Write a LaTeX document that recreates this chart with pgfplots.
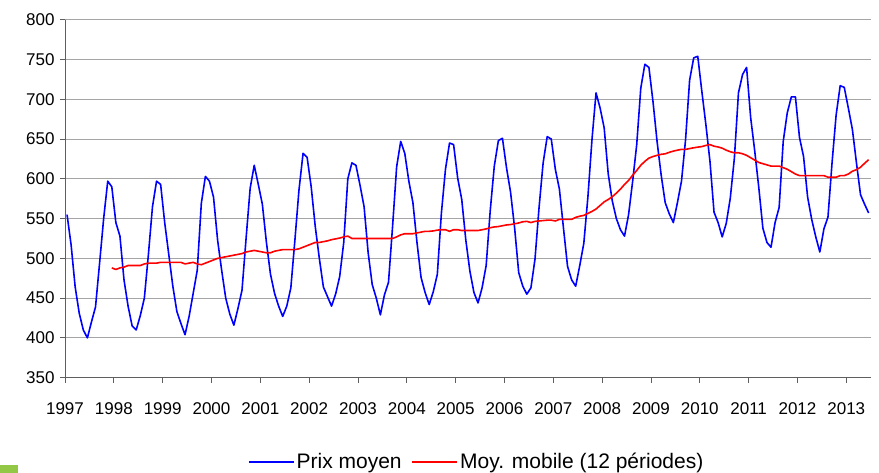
\documentclass[border=0pt]{standalone}
\usepackage{fontspec}
\setmainfont{Liberation Sans}
\usepackage{pgfplots}
\usepackage{pgfplotstable}
\pgfplotsset{compat=1.18}
\definecolor{gridgray}{RGB}{165,165,165}
\definecolor{axisgray}{RGB}{95,95,95}
\definecolor{stray}{RGB}{146,200,70}

% prix moyen, mensuel, janv. 1997 -> juin 2013
\pgfplotstableread[row sep=\\]{v\\%
555\\517\\464\\431\\410\\400\\420\\439\\494\\550\\597\\590\\%
545\\528\\473\\440\\415\\410\\428\\450\\505\\565\\597\\593\\%
545\\505\\465\\433\\418\\404\\427\\456\\485\\569\\603\\597\\%
577\\523\\485\\450\\430\\416\\437\\460\\525\\588\\617\\593\\%
568\\520\\480\\456\\440\\427\\440\\463\\523\\586\\632\\627\\%
590\\540\\500\\464\\452\\440\\455\\477\\520\\600\\620\\617\\%
592\\565\\507\\467\\450\\429\\454\\470\\540\\615\\647\\632\\%
597\\570\\520\\476\\457\\442\\458\\480\\557\\612\\645\\643\\%
601\\574\\523\\484\\457\\444\\463\\491\\560\\616\\648\\651\\%
614\\583\\538\\482\\465\\455\\463\\499\\564\\620\\653\\650\\%
612\\587\\538\\490\\473\\465\\491\\519\\577\\649\\708\\689\\%
664\\606\\572\\550\\536\\528\\555\\597\\643\\714\\744\\740\\%
697\\647\\605\\570\\556\\545\\570\\597\\649\\724\\752\\754\\%
710\\668\\622\\558\\545\\527\\544\\576\\626\\708\\731\\740\\%
677\\635\\589\\538\\520\\514\\545\\564\\647\\683\\703\\703\\%
652\\628\\577\\549\\527\\508\\537\\552\\620\\680\\717\\715\\%
689\\662\\620\\580\\568\\557\\%
}\prix

% moyenne mobile 12 mois, dec. 1997 -> juin 2013
\pgfplotstableread[row sep=\\]{v\\%
488\\%
486\\488\\489\\491\\491\\491\\491\\493\\494\\494\\494\\495\\%
495\\495\\495\\495\\495\\493\\494\\495\\493\\492\\494\\496\\%
498\\500\\501\\502\\503\\504\\505\\506\\508\\509\\510\\509\\%
508\\507\\507\\509\\510\\511\\511\\511\\511\\512\\514\\516\\%
518\\520\\520\\521\\522\\523.5\\524.5\\525.5\\527\\528\\525\\525\\%
525\\525\\525\\525\\525\\525\\525\\525\\525\\527\\529.5\\531\\%
531\\531\\532\\533\\534\\534\\534.5\\535.5\\536\\536\\534\\536\\%
536\\535\\535\\535\\535\\535\\536\\537\\538.5\\539.5\\540\\541\\%
542\\542.5\\543.5\\544.5\\546\\546.5\\545\\546.5\\547\\547.5\\548\\548\\%
547\\549\\549\\549\\549\\551.5\\553\\554\\556.5\\559\\562\\566.5\\%
571\\574\\577.5\\582\\587\\593\\598\\604.5\\610.5\\617\\622\\626\\%
628\\629.5\\630.8\\631.4\\633.3\\634.8\\636\\637\\637\\638\\639\\639.8\\%
640.5\\642\\643\\641\\640\\638.5\\636\\634\\632.7\\632.7\\631.5\\629.5\\%
626.5\\623.5\\620.5\\619\\617.5\\616\\616\\616\\614\\612\\609\\606\\%
604\\604\\604\\604\\604\\604\\604\\602\\602\\602\\604\\604\\%
606\\609.5\\611.5\\614.5\\619.5\\624\\%
}\moy

\begin{document}
\begin{tikzpicture}[x=1pt,y=1pt]
\useasboundingbox (0,0) rectangle (879,473);
\fill[stray] (0,0) rectangle (18,8);
\begin{axis}[
  at={(65pt,95.3pt)}, anchor=south west,
  scale only axis, width=805.7pt, height=358pt,
  xmin=-0.5, xmax=197.5, ymin=350, ymax=800,
  axis x line*=bottom, axis y line*=left,
  axis line style={-, draw=axisgray, line width=0.9pt},
  ytick={350,400,...,800},
  xtick={-0.5,11.5,...,191.5},
  xticklabels={1997,1998,1999,2000,2001,2002,2003,2004,2005,2006,2007,2008,2009,2010,2011,2012,2013},
  tick align=outside, major tick length=5pt,
  tick style={draw=axisgray, line width=0.9pt},
  ymajorgrids, major grid style={draw=gridgray, line width=0.9pt},
  ticklabel style={font=\fontsize{17}{17}\selectfont},
  xticklabel style={yshift=-16pt},
  yticklabel style={xshift=-2pt},
  /pgf/number format/assume math mode=true,
  legend columns=2,
  legend style={at={(0.511,-0.235)}, anchor=center, draw=none, fill=none,
    font=\fontsize{21}{21}\selectfont,
    /tikz/every even column/.append style={column sep=8pt}},
  legend image code/.code={\draw[#1] (0pt,0pt) -- (45pt,0pt);},
]
\addplot[color=blue, line width=1.6pt, line join=round] table[x expr=\coordindex, y=v] {\prix};
\addlegendentry{Prix moyen}
\addplot[color=red, line width=1.6pt, line join=round] table[x expr=\coordindex+11, y=v] {\moy};
\addlegendentry{Moy. mobile (12 périodes)}
\end{axis}
\end{tikzpicture}
\end{document}
